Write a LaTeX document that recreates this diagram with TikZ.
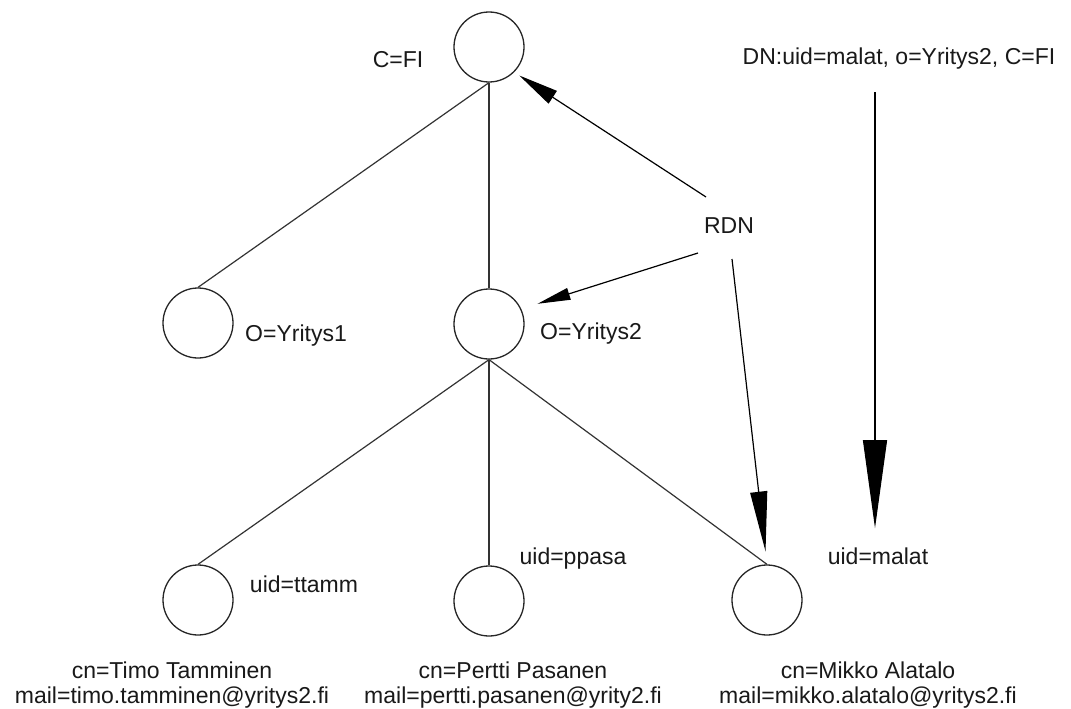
\documentclass[tikz,border=0pt]{standalone}
\usepackage{fontspec}
\setmainfont{Liberation Sans}
\usetikzlibrary{arrows.meta}
\begin{document}
\begin{tikzpicture}[x=1pt,y=-1pt,
  ent/.style={circle,draw=black!85,line width=1.3pt,minimum size=70pt,inner sep=0pt},
  lbl/.style={font=\fontsize{23}{25}\selectfont,inner sep=0pt,anchor=base,text=black!90},
  edge/.style={draw=black!80,line width=1.2pt},
  arr/.style 2 args={draw=black,line width=1.2pt,-{Triangle[length=#1,width=#2]}}
]
\useasboundingbox[fill=white] (0,0) rectangle (1071,709);

% entries
\node[ent] (fi) at (489,47) {};
\node[ent] (o1) at (198,323) {};
\node[ent] (o2) at (489,324) {};
\node[ent] (tt) at (198,600) {};
\node[ent] (pp) at (489,601) {};
\node[ent] (mk) at (767,600) {};

% tree edges
\draw[edge] (fi.south) -- (o1.north);
\draw[edge] (fi.south) -- (o2.north);
\draw[edge] (o2.south) -- (tt.north);
\draw[edge] (o2.south) -- (pp.north);
\draw[edge] (o2.south) -- (mk.north);

% labels
\node[lbl] (lfi) at (398,68) {C=FI};
\node[lbl] (lo1) at (296,341) {O=Yritys1};
\node[lbl] (lo2) at (591,339) {O=Yritys2};
\node[lbl] (rdn) at (729,233) {RDN};
\node[lbl] (dn) at (899,65) {DN:uid=malat, o=Yritys2, C=FI};
\node[lbl] (ltt) at (304,592) {uid=ttamm};
\node[lbl] (lpp) at (573,564) {uid=ppasa};
\node[lbl] (lmk) at (878,564) {uid=malat};

\node[lbl] (ctt) at (172,678) {cn=Timo Tamminen};
\node[lbl] (mtt) at (172,703) {mail=timo.tamminen@yritys2.fi};
\node[lbl] (cpp) at (513,678) {cn=Pertti Pasanen};
\node[lbl] (mpp) at (513,703) {mail=pertti.pasanen@yrity2.fi};
\node[lbl] (cmk) at (868,678) {cn=Mikko Alatalo};
\node[lbl] (mmk) at (868,703) {mail=mikko.alatalo@yritys2.fi};

% arrows
\coordinate (ra) at (706,197);
\coordinate (rb) at (698,253);
\coordinate (rc) at (732,259);
\coordinate (ds) at (875,92);
\draw[arr={40pt}{15pt},shorten >=6pt] (ra) -- (fi.-45);
\draw[arr={33pt}{12pt},shorten >=17pt] (rb) -- (o2.25);
\draw[arr={60pt}{17pt},shorten >=13pt] (rc) -- (mk.north);
\draw[arr={88pt}{24pt},shorten >=19pt] (ds) -- (ds |- lmk.north);
\end{tikzpicture}
\end{document}
